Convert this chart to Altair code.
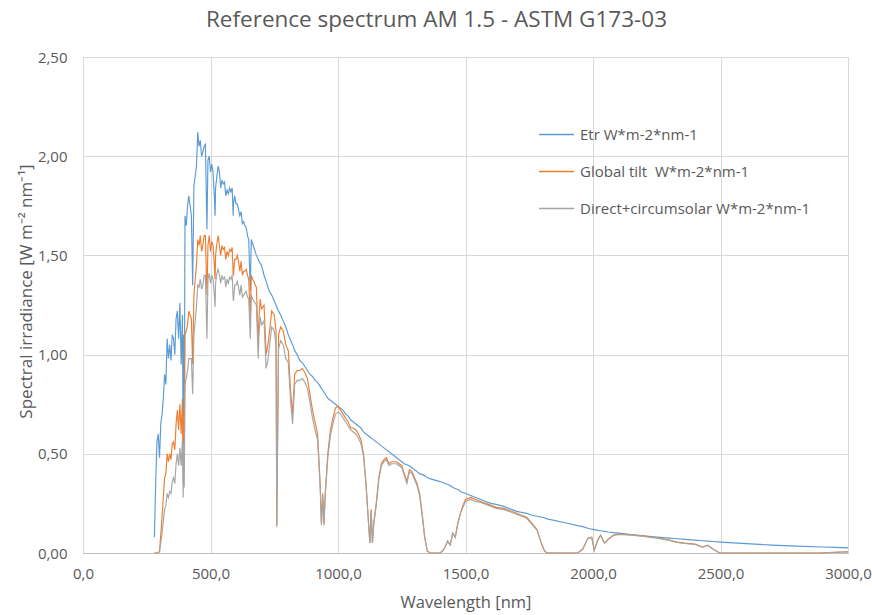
import altair as alt
import pandas as pd

# Wavelength grid [nm]
wavelength = [
    280, 285, 290, 295, 300, 305, 310, 315, 320, 325, 330, 335, 340, 345,
    350, 355, 360, 365, 370, 375, 380, 385, 390, 393, 395, 397,
    400, 405, 410, 415, 420, 425, 430, 435, 440, 445, 450, 455, 460, 465, 470, 475, 480, 486,
    490, 495, 500, 505, 510, 515, 518, 520, 525, 530, 535, 540, 545, 550, 555, 560, 565, 570, 575, 580, 585, 589,
    590, 595, 600, 605, 610, 615, 620, 625, 630, 635, 640, 645, 650, 656, 660, 665, 670, 675, 680, 687,
    690, 695, 700, 710, 718, 725, 730, 740, 750, 757, 760, 763, 767, 775, 785, 795, 805, 815, 822,
    830, 840, 850, 860, 870, 880, 890, 900, 910, 920, 930, 935, 940, 945, 950, 960, 970, 980, 990, 1000,
    1010, 1020, 1030, 1040, 1050, 1060, 1070, 1080, 1090, 1100, 1110, 1120, 1125, 1130, 1135, 1140, 1150,
    1160, 1170, 1180, 1190, 1200, 1210, 1220, 1230, 1240, 1250, 1260, 1270, 1280, 1290, 1300, 1310, 1320, 1330, 1340, 1350,
    1360, 1400, 1410, 1420, 1430, 1440, 1450, 1460, 1470, 1480, 1490, 1500,
    1520, 1540, 1560, 1580, 1600, 1620, 1650, 1680, 1700, 1720, 1740, 1760, 1780, 1800, 1810, 1820,
    1900, 1940, 1960, 1980, 1995, 2005, 2020, 2030, 2045, 2060, 2080, 2100, 2150, 2200, 2250, 2300, 2330, 2360, 2400, 2430, 2450, 2470, 2490, 2500, 2600, 2700, 2800, 2900, 2950, 3000,
]

# Extraterrestrial
etr = [
    0.08, 0.35, 0.56, 0.60, 0.48, 0.65, 0.70, 0.78, 0.90, 0.85, 1.08, 0.98, 1.05, 0.97,
    1.10, 1.08, 1.00, 1.18, 1.22, 1.08, 1.26, 0.95, 1.20, 0.50, 1.10, 0.60,
    1.70, 1.65, 1.75, 1.80, 1.75, 1.70, 1.35, 1.85, 1.90, 1.95, 2.12, 2.05, 2.08, 2.00, 2.02, 2.05, 2.06, 1.63,
    1.98, 2.00, 1.92, 1.96, 1.92, 1.80, 1.70, 1.84, 1.90, 1.95, 1.92, 1.84, 1.88, 1.86, 1.87, 1.80, 1.83, 1.81, 1.84, 1.82, 1.84, 1.70,
    1.76, 1.80, 1.76, 1.76, 1.73, 1.70, 1.72, 1.66, 1.67, 1.65, 1.64, 1.60, 1.58, 1.32, 1.58, 1.56, 1.54, 1.52, 1.50, 1.48,
    1.47, 1.46, 1.45, 1.40, 1.37, 1.34, 1.32, 1.30, 1.27, 1.25, 1.24, 1.23, 1.22, 1.20, 1.17, 1.14, 1.10, 1.07, 1.05,
    1.02, 1.00, 0.97, 0.96, 0.94, 0.92, 0.90, 0.89, 0.87, 0.86, 0.84, 0.83, 0.82, 0.81, 0.80, 0.78, 0.77, 0.76, 0.75, 0.74,
    0.73, 0.72, 0.70, 0.69, 0.67, 0.66, 0.65, 0.64, 0.63, 0.61, 0.60, 0.59, 0.585, 0.58, 0.575, 0.57, 0.56,
    0.55, 0.54, 0.53, 0.52, 0.51, 0.50, 0.49, 0.48, 0.47, 0.46, 0.45, 0.445, 0.44, 0.43, 0.42, 0.41, 0.40, 0.395, 0.39, 0.38,
    0.375, 0.36, 0.355, 0.35, 0.345, 0.34, 0.33, 0.325, 0.32, 0.31, 0.305, 0.30,
    0.29, 0.28, 0.27, 0.26, 0.25, 0.245, 0.235, 0.22, 0.21, 0.205, 0.20, 0.19, 0.185, 0.18, 0.178, 0.172,
    0.15, 0.138, 0.133, 0.125, 0.12, 0.118, 0.114, 0.112, 0.109, 0.106, 0.103, 0.10, 0.093, 0.086, 0.080, 0.075, 0.072, 0.069, 0.065, 0.062, 0.060, 0.058, 0.056, 0.055, 0.047, 0.040, 0.035, 0.030, 0.028, 0.026,
]

# Global tilt
global_tilt = [
    0, 0, 0, 0.002, 0.01, 0.09, 0.18, 0.28, 0.38, 0.40, 0.50, 0.46, 0.50, 0.47,
    0.55, 0.56, 0.52, 0.65, 0.72, 0.62, 0.75, 0.60, 0.78, 0.35, 0.72, 0.42,
    1.10, 1.12, 1.15, 1.22, 1.20, 1.18, 0.95, 1.30, 1.38, 1.45, 1.58, 1.55, 1.60, 1.52, 1.55, 1.60, 1.60, 1.30,
    1.55, 1.60, 1.52, 1.57, 1.55, 1.45, 1.38, 1.50, 1.56, 1.60, 1.55, 1.50, 1.55, 1.53, 1.54, 1.48, 1.52, 1.50, 1.53, 1.52, 1.54, 1.40,
    1.40, 1.48, 1.48, 1.50, 1.47, 1.42, 1.47, 1.40, 1.42, 1.42, 1.43, 1.40, 1.38, 1.18, 1.40, 1.38, 1.37, 1.35, 1.34, 1.05,
    1.18, 1.28, 1.23, 1.25, 1.00, 1.05, 1.10, 1.22, 1.20, 1.12, 0.14, 0.55, 1.10, 1.14, 1.12, 1.05, 1.02, 0.80, 0.70,
    0.90, 0.92, 0.92, 0.93, 0.91, 0.88, 0.80, 0.72, 0.66, 0.60, 0.35, 0.15, 0.30, 0.15, 0.30, 0.50, 0.62, 0.68, 0.73, 0.74,
    0.72, 0.70, 0.68, 0.66, 0.63, 0.63, 0.62, 0.60, 0.57, 0.50, 0.35, 0.15, 0.05, 0.22, 0.05, 0.15, 0.25,
    0.38, 0.45, 0.47, 0.48, 0.45, 0.46, 0.46, 0.46, 0.45, 0.44, 0.40, 0.36, 0.42, 0.41, 0.38, 0.35, 0.30, 0.20, 0.08, 0.01,
    0, 0, 0.01, 0.03, 0.06, 0.04, 0.10, 0.08, 0.15, 0.20, 0.24, 0.27,
    0.28, 0.27, 0.26, 0.25, 0.24, 0.23, 0.225, 0.21, 0.20, 0.19, 0.18, 0.15, 0.12, 0.04, 0.01, 0.0,
    0, 0, 0.02, 0.075, 0.08, 0.015, 0.07, 0.09, 0.05, 0.07, 0.09, 0.095, 0.092, 0.085, 0.077, 0.065, 0.055, 0.05, 0.045, 0.03, 0.04, 0.02, 0.005, 0, 0, 0, 0, 0.001, 0.004, 0.006,
]

# Direct + circumsolar
direct = [
    0, 0, 0, 0.001, 0.005, 0.05, 0.10, 0.16, 0.22, 0.24, 0.30, 0.28, 0.31, 0.30,
    0.36, 0.38, 0.35, 0.45, 0.50, 0.44, 0.53, 0.44, 0.58, 0.28, 0.55, 0.33,
    0.85, 0.88, 0.92, 0.98, 0.98, 0.98, 0.80, 1.10, 1.17, 1.24, 1.35, 1.34, 1.38, 1.33, 1.35, 1.40, 1.40, 1.08,
    1.38, 1.41, 1.36, 1.40, 1.38, 1.30, 1.24, 1.36, 1.41, 1.43, 1.40, 1.36, 1.40, 1.38, 1.39, 1.34, 1.38, 1.36, 1.39, 1.38, 1.40, 1.28,
    1.27, 1.35, 1.35, 1.37, 1.34, 1.30, 1.35, 1.29, 1.30, 1.31, 1.32, 1.29, 1.28, 1.08, 1.30, 1.28, 1.27, 1.26, 1.25, 0.98,
    1.10, 1.19, 1.15, 1.17, 0.93, 0.97, 1.03, 1.14, 1.12, 1.05, 0.13, 0.52, 1.03, 1.07, 1.05, 0.98, 0.96, 0.75, 0.65,
    0.85, 0.87, 0.87, 0.88, 0.86, 0.83, 0.76, 0.68, 0.62, 0.57, 0.33, 0.14, 0.28, 0.14, 0.29, 0.48, 0.59, 0.65, 0.70, 0.71,
    0.70, 0.68, 0.66, 0.64, 0.62, 0.61, 0.60, 0.58, 0.55, 0.49, 0.34, 0.14, 0.05, 0.21, 0.05, 0.14, 0.24,
    0.37, 0.44, 0.46, 0.47, 0.44, 0.45, 0.45, 0.45, 0.44, 0.43, 0.39, 0.35, 0.41, 0.40, 0.37, 0.34, 0.29, 0.19, 0.08, 0.01,
    0, 0, 0.01, 0.03, 0.06, 0.04, 0.10, 0.08, 0.15, 0.20, 0.23, 0.26,
    0.27, 0.26, 0.255, 0.245, 0.235, 0.225, 0.22, 0.205, 0.195, 0.185, 0.175, 0.145, 0.115, 0.04, 0.01, 0.0,
    0, 0, 0.02, 0.073, 0.078, 0.015, 0.068, 0.088, 0.05, 0.068, 0.088, 0.093, 0.09, 0.083, 0.075, 0.063, 0.053, 0.048, 0.043, 0.03, 0.038, 0.02, 0.005, 0, 0, 0, 0, 0.001, 0.004, 0.006,
]

series_names = ["Etr W*m-2*nm-1", "Global tilt\u00a0 W*m-2*nm-1", "Direct+circumsolar W*m-2*nm-1"]
series_colors = ["#5B9BD5", "#ED7D31", "#A5A5A5"]
x_ticks = [0, 500, 1000, 1500, 2000, 2500, 3000]
y_ticks = [0, 0.5, 1.0, 1.5, 2.0, 2.5]

n = len(wavelength)
assert len(etr) == n and len(global_tilt) == n and len(direct) == n, (n, len(etr), len(global_tilt), len(direct))

df = pd.DataFrame({
    "wl": wavelength * 3,
    "val": etr + global_tilt + direct,
    "series": [series_names[0]] * n + [series_names[1]] * n + [series_names[2]] * n,
})

FONT = "Open Sans"
TXT = "#595959"

x = alt.X(
    "wl:Q",
    scale=alt.Scale(domain=[0, 3000], nice=False, zero=False),
    axis=alt.Axis(
        values=x_ticks,
        labelExpr="replace(format(datum.value, '.1f'), '.', ',')",
        labelFlush=False, labelOverlap=False, labelBound=False,
        title="Wavelength [nm]",
        grid=True, gridColor="#D9D9D9", gridWidth=1,
        domainColor="#BFBFBF", domainWidth=1,
        ticks=False, labelPadding=13, titlePadding=13,
        labelFont=FONT, labelFontSize=15, labelColor=TXT,
        titleFont=FONT, titleFontSize=16.5, titleColor=TXT, titleFontWeight="normal",
    ),
)
y = alt.Y(
    "val:Q",
    scale=alt.Scale(domain=[0, 2.5], nice=False),
    axis=alt.Axis(
        values=y_ticks,
        labelExpr="replace(format(datum.value, '.2f'), '.', ',')",
        labelFlush=False, labelOverlap=False,
        title="Spectral irradiance [W m⁻² nm⁻¹]",
        grid=True, gridColor="#D9D9D9", gridWidth=1,
        domain=False, ticks=False, labelPadding=16,
        titleX=-48, titleY=234, titleBaseline="bottom",
        labelFont=FONT, labelFontSize=15, labelColor=TXT,
        titleFont=FONT, titleFontSize=17, titleColor=TXT, titleFontWeight="normal",
    ),
)
color = alt.Color(
    "series:N",
    scale=alt.Scale(domain=series_names, range=series_colors),
    legend=alt.Legend(
        title=None, orient="none", legendX=455, legendY=59,
        symbolType="stroke", symbolSize=1225, symbolStrokeWidth=1.5,
        labelFont=FONT, labelFontSize=15, labelColor=TXT, labelOffset=5,
        rowPadding=10, padding=0, labelLimit=400,
    ),
)

layers = [
    alt.Chart(df).transform_filter(alt.datum.series == name)
    .mark_line(strokeWidth=1.15, interpolate="linear")
    .encode(x=x, y=y, color=color)
    for name in series_names
]

chart = alt.layer(*layers).properties(
    width=765,
    height=496,
    autosize=alt.AutoSizeParams(type="none"),
    padding={"left": 83, "top": 57, "right": 24, "bottom": 62},
    title=alt.TitleParams(
        "Reference spectrum AM 1.5 - ASTM G173-03",
        font=FONT, fontSize=22.5, fontWeight="normal", color=TXT,
        anchor="middle", offset=19, dx=-29,
    ),
).configure_view(stroke=None).configure(background="white")

chart.save("out.html", embed_options={"renderer": "svg", "actions": False})
